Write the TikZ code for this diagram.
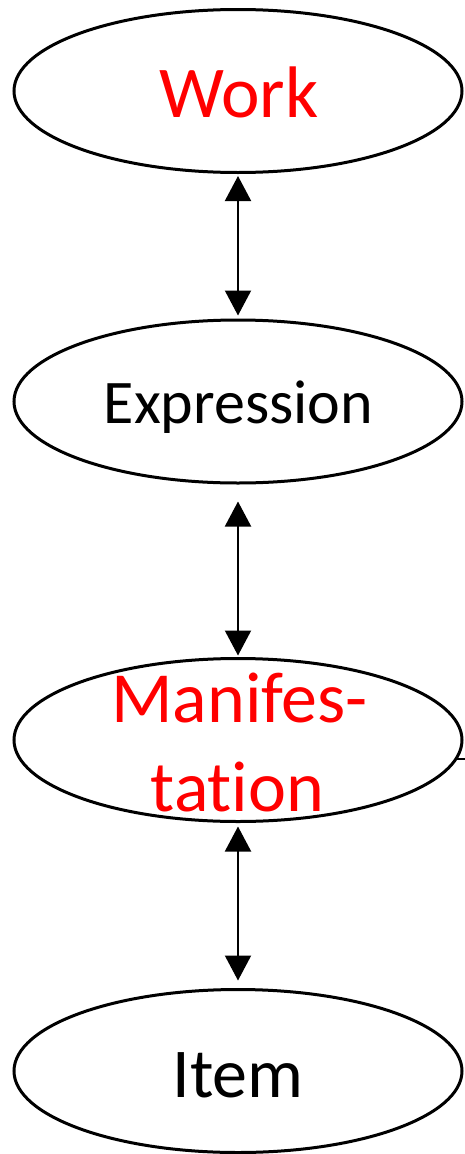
\documentclass[tikz,border=0pt]{standalone}
\usepackage{fontspec}
\setmainfont[Ligatures={NoCommon,NoRare,NoContextual}]{Carlito}
\usetikzlibrary{shapes.geometric,arrows.meta}
\begin{document}
\begin{tikzpicture}[x=1pt,y=-1pt,
  ell/.style={ellipse,draw,line width=3pt,minimum width=448pt,minimum height=163pt,inner sep=0pt},
  lbl/.style={anchor=base,inner sep=0pt},
  conn/.style={line width=2pt,{Triangle[length=25pt,width=26pt]}-{Triangle[length=25pt,width=26pt]}},
  stub/.style={line width=2pt}]
\useasboundingbox (0,0) rectangle (465,1154);
\node[ell] (work) at (238,91) {};
\node[ell] (expr) at (238,401.5) {};
\node[ell] (man) at (238,740) {};
\node[ell] (item) at (238,1071) {};
\node[lbl,text=red,font=\fontsize{73}{88}\selectfont] (workt) at (239,117) {Work};
\node[lbl,font=\fontsize{62}{75}\selectfont] (exprt) at (238.5,423) {Expression};
\node[lbl,text=red,font=\fontsize{72}{88}\selectfont] (mant1) at (239.5,722) {Manifes-};
\node[lbl,text=red,font=\fontsize{72}{88}\selectfont] (mant2) at (237.5,811) {tation};
\node[lbl,font=\fontsize{70}{85}\selectfont] (itemt) at (238,1097) {Item};
\draw[conn,shorten <=2pt,shorten >=3pt] (work.south) -- (expr.north);
\draw[conn,shorten <=17pt,shorten >=1.5pt] (expr.south) -- (man.north);
\draw[conn,shorten <=3.5pt,shorten >=7.5pt] (man.south) -- (item.north);
\coordinate (manstub) at (467,762);
\draw[stub] (man.-5.8) -- (man.-5.8 -| manstub);
\end{tikzpicture}
\end{document}
